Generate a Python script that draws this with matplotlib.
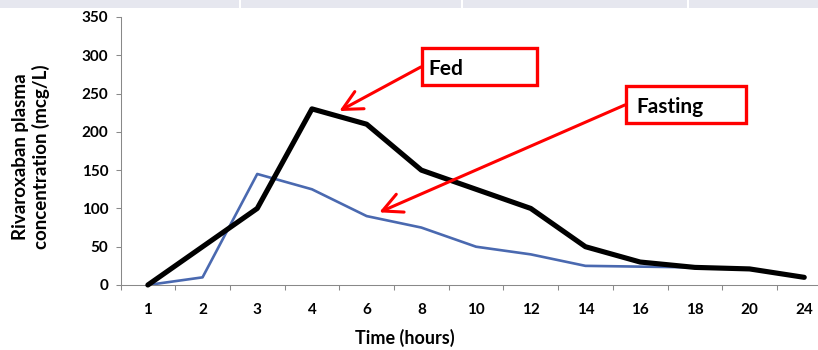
import matplotlib
matplotlib.use("Agg")
import matplotlib.pyplot as plt
from matplotlib.patches import Rectangle
import numpy as np

# concentration vs time, fed vs fasting
hours = ["1", "2", "3", "4", "6", "8", "10", "12", "14", "16", "18", "20", "24"]
fed = [0, 50, 100, 230, 210, 150, 125, 100, 50, 30, 23, 21, 10]
fasting = [0, 10, 145, 125, 90, 75, 50, 40, 25, 24, 23]

plt.rcParams["font.family"] = ["Lato", "DejaVu Sans"]
plt.rcParams["font.weight"] = "bold"

W, H = 818, 350
fig = plt.figure(figsize=(W / 100, H / 100), dpi=100)

# strip of the table above the chart
fig.add_artist(Rectangle((0, 1 - 7.5 / H), 1, 7.5 / H, transform=fig.transFigure,
                         facecolor="#E6E7EF", edgecolor="none"))
for sx in [239, 461, 687]:
    fig.add_artist(Rectangle((sx / W, 1 - 7.5 / H), 2 / W, 7.5 / H, transform=fig.transFigure,
                             facecolor="white", edgecolor="none"))

ax = fig.add_axes([120.5 / W, 65 / H, 711.1 / W, 268 / H])

x = np.arange(len(hours))
ax.plot(x[:len(fasting)], fasting, color="#4A69B0", lw=1.9, clip_on=False, zorder=2)
ax.plot(x, fed, color="black", lw=3.7, solid_capstyle="round", clip_on=False, zorder=3)

ax.set_xlim(-0.5, len(hours) - 0.5)
ax.set_ylim(0, 350)
ax.set_yticks(range(0, 351, 50))
ax.set_xticks(x)
ax.set_xticklabels(hours)
ax.set_xticks(np.arange(-0.5, len(hours), 1), minor=True)

grey = "#898989"
ax.tick_params(axis="x", which="major", length=0, pad=13, labelsize=11)
ax.tick_params(axis="x", which="minor", length=3.6, color=grey, width=0.75)
ax.tick_params(axis="y", length=3.6, color=grey, width=0.75, pad=5, labelsize=11)
for s in ["top", "right"]:
    ax.spines[s].set_visible(False)
for s in ["left", "bottom"]:
    ax.spines[s].set_color(grey)
    ax.spines[s].set_linewidth(0.75)

fig.text(31 / W, 1 - 157 / H, "Rivaroxaban plasma\nconcentration (mcg/L)", rotation=90,
         ha="center", va="center", multialignment="center", fontsize=13.5, linespacing=1.2)
fig.text(405 / W, 1 - 338 / H, "Time (hours)", ha="center", va="center", fontsize=13)

# callouts
def callout(x0, x1, y0, y1, tx, ty, label, tip, start):
    ax.annotate("", xy=tip, xytext=start,
                arrowprops=dict(arrowstyle="->,head_length=0.7,head_width=0.35", color="red",
                                lw=2.2, shrinkA=0, shrinkB=0, mutation_scale=20),
                zorder=4)
    ax.add_patch(Rectangle((x0, y0), x1 - x0, y1 - y0, facecolor="white", edgecolor="red",
                           lw=2.4, clip_on=False, zorder=5))
    ax.text(tx, ty, label, ha="left", va="baseline", fontsize=15, zorder=6)

callout(5.01, 7.11, 261.2, 309.5, 5.12, 274.3, "Fed", (3.50, 227.2), (4.99, 284.7))
callout(8.74, 10.94, 211.6, 259.9, 8.94, 224.2, "Fasting", (4.23, 94.9), (8.72, 235.1))

fig.savefig("out.png", dpi=100)
